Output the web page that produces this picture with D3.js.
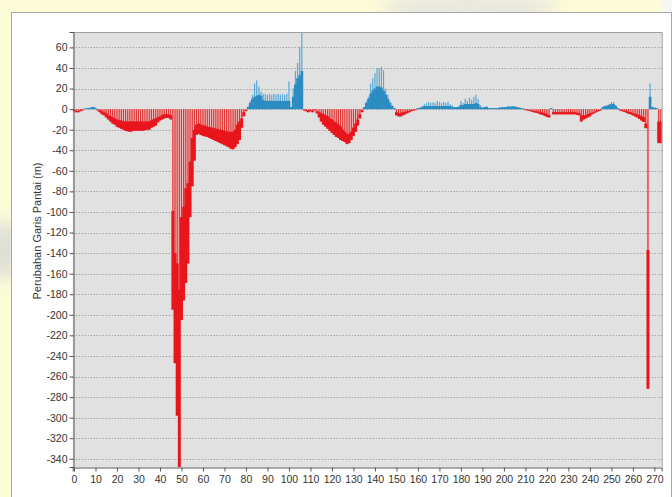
<!DOCTYPE html>
<html>
<head>
<meta charset="utf-8">
<script src="https://cdn.jsdelivr.net/npm/d3@7"></script>
<style>
  html, body { margin: 0; padding: 0; background: #ffffff; }
  svg { display: block; }
</style>
</head>
<body>
<svg id="chart" width="672" height="497"></svg>
<script>
// ---------- data ----------
const yTickValues = [60, 40, 20, 0, -20, -40, -60, -80, -100, -120, -140, -160, -180, -200,
  -220, -240, -260, -280, -300, -320, -340];
const xTickValues = [0, 10, 20, 30, 40, 50, 60, 70, 80, 90, 100, 110, 120, 130, 140, 150,
  160, 170, 180, 190, 200, 210, 220, 230, 240, 250, 260, 270];
const yLabel = "Perubahan Garis Pantai (m)";

// shoreline change per transect (bar tip, m)
const change = [
  -2, -3, -3, -2, -1, 0.5, 1, 1.5, 2, 2.5,
  1.5, -1, -3, -5, -6, -8, -10, -12, -14, -15,
  -17, -18, -19, -20, -21, -21.5, -22, -21.5, -21, -21,
  -21, -21, -21, -20.5, -20, -20, -18, -17, -16, -13,
  -11, -10, -9, -8.5, -8.5, -10, -195, -247, -298, -350,
  -205, -186, -169, -150, -105, -75, -50, -25, -24, -25,
  -26, -26.5, -27, -28, -29, -30, -31, -32, -33, -34,
  -35, -36, -37, -38.5, -39, -37, -34, -30, -18, -7,
  -2, 3, 8, 14, 25, 28, 22, 17, 15, 15,
  14, 15, 14, 15, 14, 15, 14, 15, 14, 15,
  27, 2, 20, 37, 45, 60, 75, -1, -2, -3,
  -2, -3, -1, -4, -8, -12, -15, -17, -19, -21,
  -23, -25, -27, -28, -30, -31, -32, -34, -33, -30,
  -26, -22, -16, -9, -3, 2, 8, 12, 25, 30,
  35, 40, 40, 41, 38, 20, 14, 8, 4, 1,
  -6, -7, -7, -6, -5, -4, -3, -2, -1, -0.5,
  1, 2, 3, 5, 6, 7, 6, 7, 6, 8,
  7, 6, 7, 6, 7, 5, 4, 2, 2, 3,
  8, 6, 10, 8, 11, 9, 12, 14, 10, 4,
  2, 2, 3, 1, 1, 1, 1, 1, 1.5, 1.5,
  2, 2, 2.5, 2.5, 3, 2.5, 2, 1.5, 1, 0.5,
  -0.5, -1, -1.5, -2.5, -3, -3.5, -4, -5, -5.5, -6.5,
  -7.5, -8, 1, -5, -5, -5, -5, -5, -5, -5,
  -5, -5, -5, -5, -5.5, -6, -12, -10, -9, -8,
  -7, -5, -4, -3, -2, -1, 2, 3, 3.5, 5,
  7, 7, 4, 1, -1, -2, -2.5, -3.5, -4.5, -5,
  -6, -7, -8, -9.5, -11, -12.5, -18.5, -272, 25, 2,
  1.5, 1, -33, -33
];

// dense (solid) part of each bar, m
const core = [
  -1, -2, -2, -1, -0.5, 0.5, 1, 1, 1.5, 2,
  1, -0.5, -1, -2, -3, -4, -6, -7, -8, -9,
  -10, -11, -11, -12, -12, -12, -12, -12, -12, -12,
  -12, -12, -12, -12, -12, -12, -11, -10, -9, -8,
  -7, -6, -5, -5, -5, -6, -99, -140, -150, -175,
  -105, -95, -77, -72, -51, -28, -20, -15, -14, -15,
  -16, -16, -17, -17.5, -18, -18.5, -19, -19.5, -20, -20.5,
  -21, -21.5, -22, -22, -22, -20, -15, -12, -9, -3,
  -1, 2, 6, 10, 12, 13, 14, 13, 9, 8,
  8, 8, 8, 8, 8, 8, 8, 8, 8, 8,
  8, 2, 12, 24, 30, 33, 37, -0.5, -1, -1.5,
  -1, -1.5, -0.5, -2, -3, -4, -5, -6, -7, -9,
  -10, -12, -13, -15, -17, -20, -22, -24, -24, -22,
  -18, -14, -10, -5, -1, 2, 6, 10, 15, 18,
  20, 22, 22, 21, 18, 14, 10, 6, 3, 1,
  -3, -4, -4, -3, -3, -2, -2, -1, -0.5, -0.3,
  1, 1, 2, 3, 3, 3, 3, 3, 3, 3,
  3, 3, 3, 3, 3, 3, 2, 2, 2, 2,
  4, 4, 5, 5, 5, 5, 5, 6, 5, 2,
  1, 2, 2, 1, 1, 1, 1, 1, 1.5, 1.5,
  2, 2, 2.5, 2.5, 2.5, 2.5, 2, 1.5, 1, 0.5,
  -0.3, -0.5, -1, -1.5, -2, -2, -2.5, -3, -3.5, -4,
  -5, -6, 1, -3, -3, -3, -3, -3, -3, -3,
  -3, -3, -3, -3, -3.5, -4, -6, -6, -6, -5,
  -4, -3.5, -3, -2, -1, -0.5, 2, 3, 3.5, 4,
  5, 5, 3, 1, -0.5, -1, -1.5, -2, -3, -3,
  -4, -4.5, -5, -6, -7, -8, -14, -137, 12, 2,
  1.5, 1, -12, -12
];

const transects = change.map((_, i) => i);
const rows = transects.map(i => ({ t: i, v: change[i], c: core[i] }));

// ---------- layout ----------
const svg = d3.select("#chart");
const W = 672, H = 497;
const plot = { left: 72.7, right: 661.7, top: 32, bottom: 467 };

// background / watermark
const defs = svg.append("defs");
const blur = defs.append("filter").attr("id", "blur").attr("x", "-50%").attr("y", "-50%")
  .attr("width", "200%").attr("height", "200%");
blur.append("feGaussianBlur").attr("stdDeviation", 8);
defs.append("clipPath").attr("id", "plotclip").append("rect")
  .attr("x", plot.left).attr("y", plot.top)
  .attr("width", plot.right - plot.left).attr("height", plot.bottom - plot.top);

svg.append("rect").attr("x", 0).attr("y", 0).attr("width", W).attr("height", H).attr("fill", "#fdfcd8");
svg.append("ellipse").attr("cx", 470).attr("cy", 8).attr("rx", 90).attr("ry", 14)
  .attr("fill", "#cfcce8").attr("opacity", 0.45).attr("filter", "url(#blur)");
svg.append("ellipse").attr("cx", 4).attr("cy", 250).attr("rx", 14).attr("ry", 30)
  .attr("fill", "#c8c8d8").attr("opacity", 0.6).attr("filter", "url(#blur)");
svg.append("rect").attr("x", 662).attr("y", 0).attr("width", 10).attr("height", H).attr("fill", "#f6f6f2");

// white panel
svg.append("rect").attr("x", 11.5).attr("y", 12.5).attr("width", 660).attr("height", 490)
  .attr("fill", "#ffffff").attr("stroke", "#a8a8a8").attr("stroke-width", 1);

// plot background
svg.append("rect").attr("x", plot.left).attr("y", plot.top)
  .attr("width", plot.right - plot.left).attr("height", plot.bottom - plot.top)
  .attr("fill", "#e1e1e1");

// ---------- scales ----------
const x = d3.scaleLinear().domain([-0.6, 273.4]).range([plot.left, plot.right]);
const y = d3.scaleLinear().domain([-348, 75]).range([plot.bottom, plot.top]);
const step = x(1) - x(0);

// gridlines
svg.append("g").selectAll("line").data(yTickValues).join("line")
  .attr("x1", plot.left).attr("x2", plot.right)
  .attr("y1", d => Math.round(y(d)) + 0.5).attr("y2", d => Math.round(y(d)) + 0.5)
  .attr("stroke", "#8c8c8c").attr("stroke-width", 1).attr("stroke-dasharray", "1,2");

// ---------- bars ----------
const gBars = svg.append("g").attr("clip-path", "url(#plotclip)");
const neg = rows.filter(d => d.v < 0);
const pos = rows.filter(d => d.v >= 0);

// negative: pink shaded bar with red stripe, solid red toward the tip
gBars.append("g").selectAll("rect").data(neg).join("rect")
  .attr("x", d => x(d.t) - step / 2).attr("width", step)
  .attr("y", y(0)).attr("height", d => y(d.v) - y(0))
  .attr("fill", "#f0c2c2");
gBars.append("g").selectAll("rect").data(neg).join("rect")
  .attr("x", d => x(d.t) - 0.6).attr("width", 1.2)
  .attr("y", y(0)).attr("height", d => y(d.v) - y(0))
  .attr("fill", "#de3434");
gBars.append("g").selectAll("rect").data(neg).join("rect")
  .attr("x", d => x(d.t) - step / 2 - 0.4).attr("width", step + 0.8)
  .attr("y", d => y(Math.min(d.c, 0))).attr("height", d => Math.max(0.8, y(d.v) - y(Math.min(d.c, 0))))
  .attr("fill", "#e8161c");

// positive: thin light-blue stripe to tip, solid blue core
gBars.append("g").selectAll("rect").data(pos).join("rect")
  .attr("x", d => x(d.t) - 0.6).attr("width", 1.2)
  .attr("y", d => y(d.v)).attr("height", d => y(0) - y(d.v))
  .attr("fill", "#5aa9d6");
gBars.append("g").selectAll("rect").data(pos).join("rect")
  .attr("x", d => x(d.t) - step / 2 - 0.3).attr("width", step + 0.6)
  .attr("y", d => y(Math.max(d.c, 0))).attr("height", d => y(0) - y(Math.max(d.c, 0)))
  .attr("fill", "#2b8cc3");

// plot frame (top & right)
svg.append("path")
  .attr("d", `M${plot.left},${plot.top + 0.5}H${plot.right + 0.5}V${plot.bottom}`)
  .attr("fill", "none").attr("stroke", "#a0a0a0");

// ---------- axes ----------
const yAxis = d3.axisLeft(y).tickValues(yTickValues).tickSize(4).tickPadding(2).tickFormat(d3.format("d"));
const gy = svg.append("g").attr("transform", `translate(${Math.round(plot.left) + 0.5},0)`).call(yAxis);
gy.select(".domain").attr("stroke", "#555");
gy.selectAll(".tick line").attr("stroke", "#555");
gy.selectAll(".tick text").attr("fill", "#333").style("font-family", "'Liberation Sans', Arial, sans-serif")
  .style("font-size", "10.5px").text(d => d < 0 ? "-" + Math.abs(d) : d);

const xAxis = d3.axisBottom(x).tickValues(xTickValues).tickSize(4).tickPadding(4).tickFormat(d3.format("d"));
const gx = svg.append("g").attr("transform", `translate(0,${plot.bottom + 0.5})`).call(xAxis);
gx.select(".domain").attr("stroke", "#555");
gx.selectAll(".tick line").attr("stroke", "#555");
gx.selectAll(".tick text").attr("fill", "#333").style("font-family", "'Liberation Sans', Arial, sans-serif")
  .style("font-size", "10.5px");

// y label
svg.append("text")
  .attr("transform", `translate(41,231) rotate(-90)`)
  .attr("text-anchor", "middle")
  .attr("fill", "#333")
  .style("font-family", "'Liberation Sans', Arial, sans-serif")
  .style("font-size", "11px")
  .text(yLabel);
</script>
</body>
</html>
